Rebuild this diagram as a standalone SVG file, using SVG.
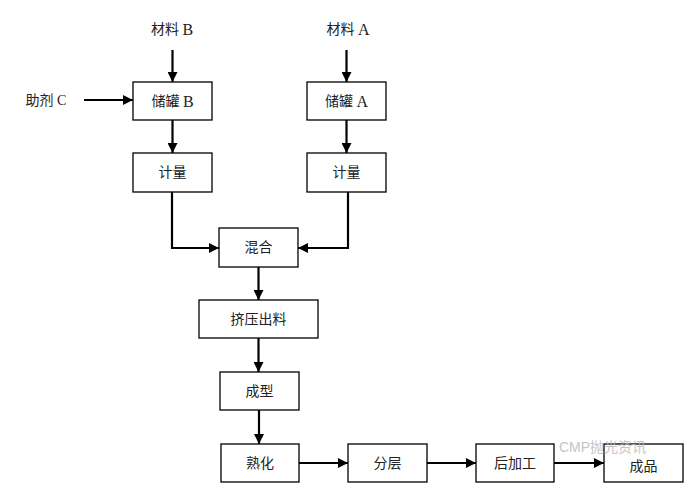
<svg xmlns="http://www.w3.org/2000/svg" width="690" height="498" viewBox="0 0 690 498">
<style>
.box{fill:#fff;stroke:#000;stroke-width:1.3}
.t{font-family:"Liberation Serif","Noto Sans CJK SC",serif;font-size:14px;fill:#222;text-anchor:middle;dominant-baseline:central}
.l{font-size:16px}
.c{fill:none;stroke:#000;stroke-width:2.2}
.wm{font-family:"Liberation Sans","Noto Sans CJK SC",sans-serif;font-size:14px;fill:#bbb;opacity:0.85}
</style>
<defs>
<marker id="ah" viewBox="0 0 10 10" refX="10" refY="5" markerWidth="10" markerHeight="10" markerUnits="userSpaceOnUse" orient="auto">
<path d="M0,0 L10,5 L0,10 Z" fill="#000"/>
</marker>
</defs>
<rect width="690" height="498" fill="#fff"/>
<g id="connectors">
<path class="c" d="M172.5,50 V82" marker-end="url(#ah)"/>
<path class="c" d="M346.5,50 V82" marker-end="url(#ah)"/>
<path class="c" d="M84,100 H133" marker-end="url(#ah)"/>
<path class="c" d="M172.5,120 V153" marker-end="url(#ah)"/>
<path class="c" d="M346.5,120 V153" marker-end="url(#ah)"/>
<path class="c" d="M172,192 V248 H219" marker-end="url(#ah)"/>
<path class="c" d="M348,192 V248 H298" marker-end="url(#ah)"/>
<path class="c" d="M258.5,267 V300" marker-end="url(#ah)"/>
<path class="c" d="M258.5,338 V372" marker-end="url(#ah)"/>
<path class="c" d="M259,410 V444" marker-end="url(#ah)"/>
<path class="c" d="M299,463 H348" marker-end="url(#ah)"/>
<path class="c" d="M427,463 H476" marker-end="url(#ah)"/>
<path class="c" d="M554,463 H604" marker-end="url(#ah)"/>
</g>
<g id="matB"><text class="t" x="172" y="29">材料 <tspan class="l">B</tspan></text></g>
<g id="matA"><text class="t" x="348" y="29">材料 <tspan class="l">A</tspan></text></g>
<g id="aidC"><text class="t" x="46" y="100">助剂 C</text></g>
<g id="tankB"><rect class="box" x="133" y="82" width="79" height="38"/><text class="t" x="172.5" y="101">储罐 <tspan class="l">B</tspan></text></g>
<g id="tankA"><rect class="box" x="307" y="82" width="79" height="38"/><text class="t" x="346.5" y="101">储罐 <tspan class="l">A</tspan></text></g>
<g id="meterB"><rect class="box" x="133" y="153" width="79" height="39"/><text class="t" x="172.5" y="172">计量</text></g>
<g id="meterA"><rect class="box" x="307" y="153" width="79" height="39"/><text class="t" x="346.5" y="172">计量</text></g>
<g id="mix"><rect class="box" x="219" y="228" width="79" height="39"/><text class="t" x="258.5" y="247">混合</text></g>
<g id="extrude"><rect class="box" x="199" y="300" width="119" height="38"/><text class="t" x="258.5" y="319">挤压出料</text></g>
<g id="mold"><rect class="box" x="220" y="372" width="79" height="38"/><text class="t" x="259.5" y="391">成型</text></g>
<g id="cure"><rect class="box" x="221" y="444" width="78" height="38"/><text class="t" x="260" y="463">熟化</text></g>
<g id="layer"><rect class="box" x="348" y="444" width="79" height="38"/><text class="t" x="387.5" y="463">分层</text></g>
<g id="post"><rect class="box" x="476" y="444" width="78" height="38"/><text class="t" x="515" y="463">后加工</text></g>
<g id="product"><rect class="box" x="604" y="444" width="79" height="38"/><text class="t" x="643.5" y="466">成品</text></g>
<g id="watermark"><text class="wm" x="559" y="452">CMP抛光资讯</text></g>
</svg>
